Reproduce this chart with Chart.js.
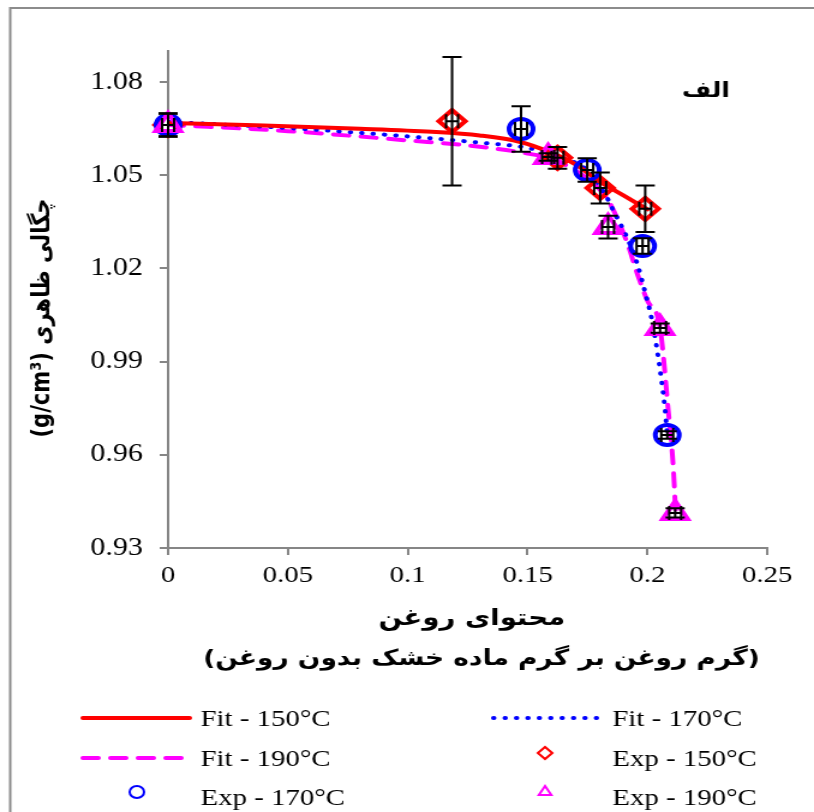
<!DOCTYPE html>
<html>
<head>
<meta charset="utf-8">
<script src="https://cdn.jsdelivr.net/npm/chart.js@4.4.1/dist/chart.umd.min.js"></script>
<style>
  body { margin: 0; background: #fff; }
  #wrap { width: 814px; height: 812px; overflow: hidden; }
  /* the original figure is stretched sideways, so draw narrow and widen it */
  #densityChart { transform: scaleX(1.2006); transform-origin: 0 0; }
</style>
</head>
<body>
<div id="wrap"><canvas id="densityChart" width="678" height="812"></canvas></div>
<script>
// axis ticks
const xTicks = [0, 0.05, 0.1, 0.15, 0.2, 0.25];
const xTickLabels = ['0', '0.05', '0.1', '0.15', '0.2', '0.25'];
const yTicks = [0.93, 0.96, 0.99, 1.02, 1.05, 1.08];
const yTickLabels = ['0.93', '0.96', '0.99', '1.02', '1.05', '1.08'];

// fitted curves
const fit150X = [0, 0.04, 0.08, 0.11, 0.13, 0.147, 0.16, 0.17, 0.18, 0.19, 0.2];
const fit150Y = [1.0668, 1.0660, 1.0650, 1.0640, 1.0628, 1.0607, 1.0572, 1.0535, 1.0480, 1.0435, 1.0390];
const fit170X = [0, 0.05, 0.1, 0.13, 0.15, 0.165, 0.175, 0.1832, 0.1853, 0.1916, 0.1957, 0.199, 0.202, 0.2053, 0.2074, 0.2083];
const fit170Y = [1.0672, 1.0652, 1.0625, 1.0605, 1.0588, 1.0555, 1.0515, 1.0427, 1.0394, 1.0298, 1.0217, 1.0125, 1.0030, 0.9873, 0.9744, 0.9664];
const fit190X = [0, 0.05, 0.1, 0.13, 0.15, 0.16, 0.17, 0.178, 0.1836, 0.1916, 0.1957, 0.1999, 0.2053, 0.2087, 0.2108, 0.2118];
const fit190Y = [1.0662, 1.0642, 1.0612, 1.0592, 1.0570, 1.0553, 1.0515, 1.0470, 1.0420, 1.0282, 1.0185, 1.0098, 1.0008, 0.9744, 0.9561, 0.9413];

// experimental points with error bars
const exp150X = [0, 0.1185, 0.1625, 0.1803, 0.1991];
const exp150Y = [1.0662, 1.0674, 1.0556, 1.0459, 1.0392];
const exp150Err = [0.0037, 0.0207, 0.0035, 0.0050, 0.0075];
const exp170X = [0, 0.1473, 0.1749, 0.1980, 0.2083];
const exp170Y = [1.0662, 1.0649, 1.0517, 1.0272, 0.9664];
const exp170Err = [0.0037, 0.0073, 0.0038, 0.0025, 0.0012];
const exp190X = [0, 0.1586, 0.1836, 0.2053, 0.2116];
const exp190Y = [1.0662, 1.0559, 1.0333, 1.0008, 0.9413];
const exp190Err = [0.0037, 0.0012, 0.0037, 0.0015, 0.0015];
const xErr = 0.0025;

const toPoints = (xs, ys) => xs.map((x, i) => ({ x: x, y: ys[i] }));

const RED = '#ff0000', BLUE = '#0000ff', PINK = '#ff00ff';
const serif = "'Liberation Serif', 'Times New Roman', serif";
const arabic = "'DejaVu Sans', sans-serif";

const fitLine = (label, xs, ys, color, width, dash, order) => ({
  label: label, data: toPoints(xs, ys), showLine: true, borderColor: color,
  borderWidth: width, borderDash: dash, borderCapStyle: 'round',
  cubicInterpolationMode: 'monotone', pointRadius: 0, order: order
});
const expPoints = (label, xs, ys, errs, color, style, radius, order) => ({
  label: label, data: toPoints(xs, ys), showLine: false, yErr: errs, clip: false,
  pointStyle: style, pointRadius: radius, pointBorderWidth: 4,
  pointBorderColor: color, pointBackgroundColor: 'rgba(0,0,0,0)',
  borderColor: color, backgroundColor: 'rgba(0,0,0,0)', order: order
});

// error bars in both directions, drawn on top of the markers
const errorBars = {
  id: 'errorBars',
  afterDatasetsDraw(chart) {
    const ctx = chart.ctx, xs = chart.scales.x, ys = chart.scales.y;
    ctx.save();
    ctx.strokeStyle = '#000';
    ctx.lineWidth = 2;
    chart.data.datasets.forEach(ds => {
      if (!ds.yErr) return;
      ds.data.forEach((p, i) => {
        const px = xs.getPixelForValue(p.x), py = ys.getPixelForValue(p.y);
        const top = ys.getPixelForValue(p.y + ds.yErr[i]);
        const bot = ys.getPixelForValue(p.y - ds.yErr[i]);
        const lft = xs.getPixelForValue(p.x - xErr);
        const rgt = xs.getPixelForValue(p.x + xErr);
        ctx.beginPath();
        ctx.moveTo(px, top); ctx.lineTo(px, bot);
        ctx.moveTo(px - 8, top); ctx.lineTo(px + 8, top);
        ctx.moveTo(px - 8, bot); ctx.lineTo(px + 8, bot);
        ctx.moveTo(lft, py); ctx.lineTo(rgt, py);
        ctx.moveTo(lft, py - 7); ctx.lineTo(lft, py + 7);
        ctx.moveTo(rgt, py - 7); ctx.lineTo(rgt, py + 7);
        ctx.stroke();
      });
    });
    ctx.restore();
  }
};

// frame, axis titles, panel letter and the two-column legend
const decorations = {
  id: 'decorations',
  beforeDraw(chart) {
    const ctx = chart.ctx;
    ctx.save();
    ctx.fillStyle = '#fff';
    ctx.fillRect(0, 0, chart.width, chart.height);
    ctx.strokeStyle = '#8c8c8c';
    ctx.lineWidth = 2;
    ctx.strokeRect(8.5, 8, 720, 900);
    ctx.restore();
  },
  afterDraw(chart) {
    const ctx = chart.ctx;
    ctx.save();
    ctx.fillStyle = '#000';

    // y title
    ctx.save();
    ctx.translate(36, 318);
    ctx.rotate(-Math.PI / 2);
    ctx.direction = 'rtl';
    ctx.textAlign = 'center';
    ctx.textBaseline = 'middle';
    ctx.font = 'bold 21px ' + arabic;
    ctx.fillText('چگالی ظاهری (g/cm³)', 0, 0);
    ctx.restore();

    // x title, two lines
    ctx.direction = 'rtl';
    ctx.textAlign = 'center';
    ctx.textBaseline = 'middle';
    ctx.font = 'bold 23px ' + arabic;
    ctx.fillText('محتوای روغن', 393, 619);
    ctx.font = 'bold 22px ' + arabic;
    ctx.fillText('(گرم روغن بر گرم ماده خشک بدون روغن)', 401, 659);

    // panel letter
    ctx.font = 'bold 21px ' + arabic;
    ctx.fillText('الف', 588, 92);

    // legend
    ctx.direction = 'ltr';
    ctx.textAlign = 'left';
    ctx.font = '24px ' + serif;
    const cols = [{ l0: 69, l1: 158, mk: 114, tx: 167 }, { l0: 411, l1: 498, mk: 454, tx: 510 }];
    const rows = [718, 758, 797];
    chart.data.datasets.forEach((ds, i) => {
      const c = cols[i % 2], y = rows[Math.floor(i / 2)];
      ctx.save();
      if (ds.showLine) {
        ctx.strokeStyle = ds.borderColor;
        ctx.lineWidth = ds.borderWidth;
        ctx.lineCap = 'round';
        ctx.setLineDash(ds.borderDash || []);
        ctx.beginPath();
        ctx.moveTo(c.l0, y); ctx.lineTo(c.l1, y);
        ctx.stroke();
      } else {
        ctx.strokeStyle = ds.pointBorderColor;
        ctx.fillStyle = 'rgba(0,0,0,0)';
        ctx.lineWidth = 2;
        ctx.setLineDash([]);
        Chart.helpers.drawPoint(ctx, { pointStyle: ds.pointStyle, radius: 6, borderWidth: 2, rotation: 0 }, c.mk, y - 5);
      }
      ctx.restore();
      ctx.fillText(ds.label, c.tx, y + 2);
    });
    ctx.restore();
  }
};

const axisGrid = { display: true, drawOnChartArea: false, drawTicks: true, tickLength: 7, color: '#868686', lineWidth: 2 };

new Chart(document.getElementById('densityChart'), {
  type: 'scatter',
  data: {
    datasets: [
      fitLine('Fit - 150°C', fit150X, fit150Y, RED, 4, [], 3),
      fitLine('Fit - 170°C', fit170X, fit170Y, BLUE, 4, [0.5, 9], 4),
      fitLine('Fit - 190°C', fit190X, fit190Y, PINK, 4, [13, 10], 5),
      expPoints('Exp - 150°C', exp150X, exp150Y, exp150Err, RED, 'rectRot', 11, 2),
      expPoints('Exp - 170°C', exp170X, exp170Y, exp170Err, BLUE, 'circle', 10, 1),
      expPoints('Exp - 190°C', exp190X, exp190Y, exp190Err, PINK, 'triangle', 12, 0)
    ]
  },
  options: {
    responsive: false,
    animation: false,
    layout: { padding: { left: 0, right: 39, top: 51, bottom: 224 } },
    plugins: { legend: { display: false }, tooltip: { enabled: false } },
    scales: {
      x: {
        type: 'linear', min: 0, max: 0.25,
        afterBuildTicks: axis => { axis.ticks = xTicks.map(v => ({ value: v })); },
        afterFit: axis => { axis.height = 40; },
        ticks: { callback: (v, i) => xTickLabels[i], color: '#000', font: { family: serif, size: 24 }, padding: 6, maxRotation: 0 },
        grid: axisGrid,
        border: { color: '#868686', width: 2 }
      },
      y: {
        type: 'linear', min: 0.93, max: 1.09,
        afterBuildTicks: axis => { axis.ticks = yTicks.map(v => ({ value: v })); },
        afterFit: axis => { axis.width = 140; },
        ticks: { callback: (v, i) => yTickLabels[i], color: '#000', font: { family: serif, size: 25 }, padding: 14 },
        grid: axisGrid,
        border: { color: '#868686', width: 2 }
      }
    }
  },
  plugins: [errorBars, decorations]
});
</script>
</body>
</html>
